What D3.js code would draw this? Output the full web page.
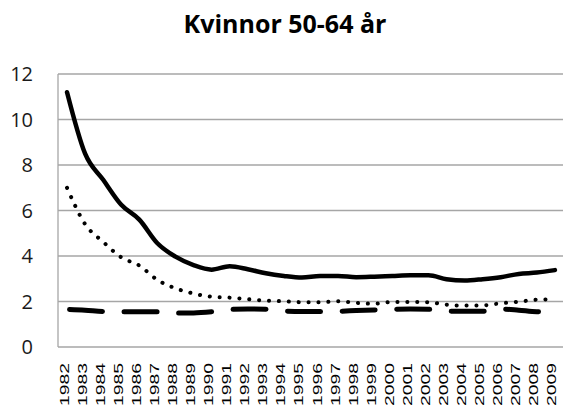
<!DOCTYPE html>
<html>
<head>
<meta charset="utf-8">
<script src="https://cdn.jsdelivr.net/npm/d3@7"></script>
<style>
  body { margin: 0; background: #fff; }
  svg { display: block; }
</style>
</head>
<body>
<div class="visual"></div>
<script>
// data
const years = ["1982","1983","1984","1985","1986","1987","1988","1989","1990","1991",
  "1992","1993","1994","1995","1996","1997","1998","1999","2000","2001",
  "2002","2003","2004","2005","2006","2007","2008","2009"];
const solidVals = [11.2,8.5,7.35,6.25,5.6,4.56,3.97,3.6,3.4,3.55,
  3.42,3.24,3.12,3.05,3.12,3.12,3.07,3.09,3.12,3.15,
  3.15,2.98,2.92,2.98,3.07,3.21,3.27,3.38];
const dottedVals = [7.0,5.4,4.62,3.94,3.58,2.95,2.58,2.35,2.21,2.17,
  2.1,2.04,2.01,1.97,1.97,2.01,1.94,1.9,1.98,1.98,
  1.97,1.86,1.82,1.83,1.92,1.99,2.08,2.1];
const dashedVals = [1.65,1.62,1.56,1.55,1.55,1.55,1.5,1.5,1.55,1.65,
  1.67,1.66,1.58,1.56,1.56,1.57,1.6,1.63,1.66,1.67,
  1.66,1.58,1.57,1.57,1.67,1.62,1.55,1.6];
const yTicks = [0,2,4,6,8,10,12];

const width = 563, height = 410;
const margin = {top: 74, bottom: 63, left: 58, right: 0};

const svg = d3.select(".visual")
  .append("svg")
  .attr("width", width)
  .attr("height", height);

const x = d3.scaleBand().domain(years).range([margin.left, margin.left + 28 * 18.07]);
const y = d3.scaleLinear().domain([0, 12]).range([height - margin.bottom, margin.top]);

// gridlines
svg.append("g")
  .selectAll("line")
  .data(yTicks)
  .enter()
  .append("line")
  .attr("x1", margin.left)
  .attr("x2", width)
  .attr("y1", d => y(d))
  .attr("y2", d => y(d))
  .attr("stroke", "#a6a6a6")
  .attr("stroke-width", 1.3);

// left axis line
svg.append("line")
  .attr("x1", margin.left).attr("x2", margin.left)
  .attr("y1", y(12)).attr("y2", y(0))
  .attr("stroke", "#a6a6a6")
  .attr("stroke-width", 1.3);

// y labels
const yAxis = d3.axisLeft(y).tickValues(yTicks).tickSize(0).tickPadding(0);
const ya = svg.append("g")
  .attr("transform", "translate(33,0)")
  .call(yAxis);
ya.select(".domain").remove();
ya.selectAll("text")
  .attr("font-family", "'Open Sans', sans-serif")
  .attr("font-size", 20)
  .attr("fill", "#1a1a1a")
  .attr("dy", "0.34em");

// x labels, rotated
svg.append("g")
  .selectAll("text")
  .data(years)
  .enter()
  .append("text")
  .attr("transform", d => "translate(" + (x(d) + x.bandwidth() / 2 + 1.5) + ",363) rotate(-90) scale(1.55,1)")
  .attr("text-anchor", "end")
  .attr("font-family", "'Liberation Sans', Arial, sans-serif")
  .attr("font-size", 12.5)
  .attr("fill", "#000")
  .text(d => d);

// lines
const line = d3.line()
  .x((d, i) => x(years[i]) + x.bandwidth() / 2)
  .y(d => y(d))
  .curve(d3.curveMonotoneX);

svg.append("path")
  .datum(solidVals)
  .attr("d", line)
  .attr("fill", "none")
  .attr("stroke", "#000")
  .attr("stroke-width", 4.5)
  .attr("stroke-linejoin", "round")
  .attr("stroke-linecap", "round");

svg.append("path")
  .datum(dottedVals)
  .attr("d", line)
  .attr("fill", "none")
  .attr("stroke", "#000")
  .attr("stroke-width", 4)
  .attr("stroke-dasharray", "0.1 9.8")
  .attr("stroke-linecap", "round");

svg.append("path")
  .datum(dashedVals)
  .attr("d", line)
  .attr("fill", "none")
  .attr("stroke", "#000")
  .attr("stroke-width", 5)
  .attr("stroke-dasharray", "33 21.6")
  .attr("stroke-dashoffset", -2.5)
  .attr("stroke-linecap", "round");

// title
svg.append("text")
  .attr("x", 285)
  .attr("y", 33)
  .attr("text-anchor", "middle")
  .attr("font-family", "'Open Sans', sans-serif")
  .attr("font-weight", "bold")
  .attr("font-size", 25)
  .attr("fill", "#000")
  .text("Kvinnor 50-64 år");
</script>
</body>
</html>
